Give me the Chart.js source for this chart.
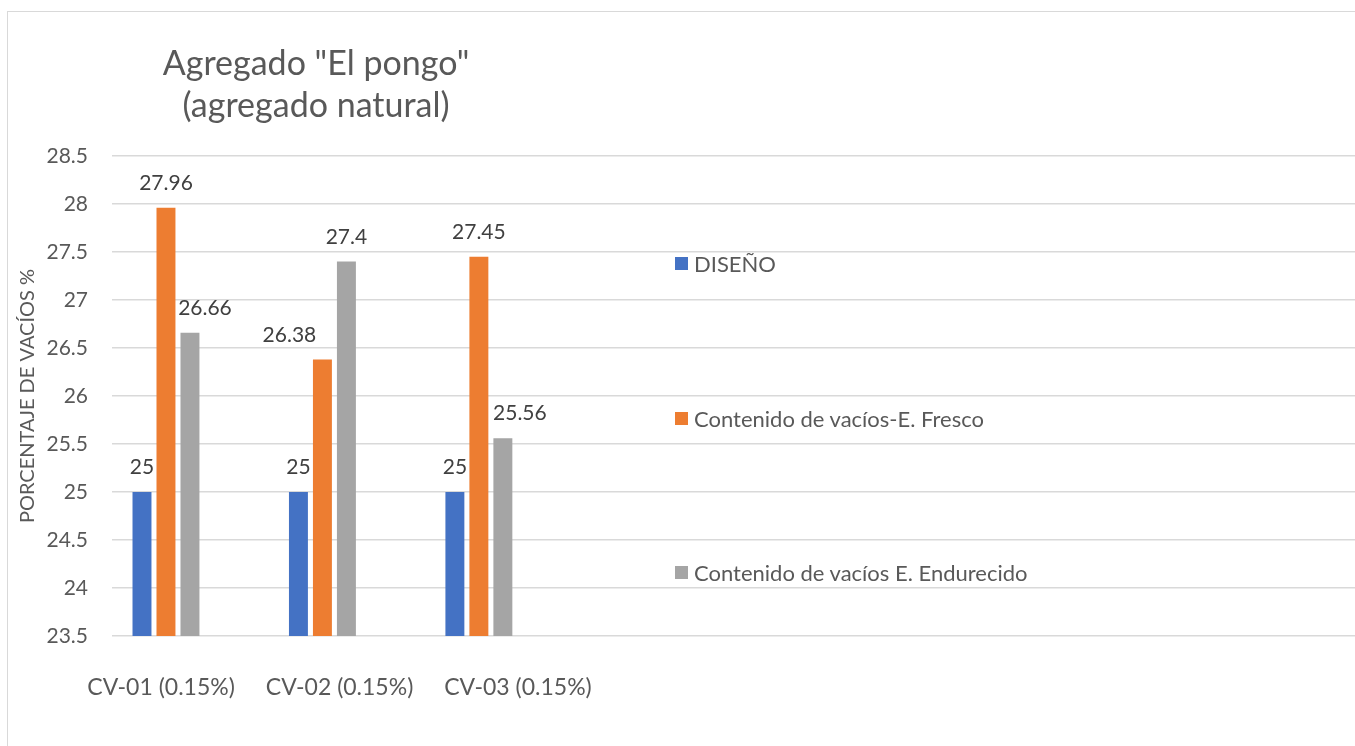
<!DOCTYPE html>
<html>
<head>
<meta charset="utf-8">
<script src="https://cdn.jsdelivr.net/npm/chart.js@4.4.1/dist/chart.umd.min.js"></script>
<style>
  body { margin: 0; background: #fff; }
  #wrap { position: relative; width: 1355px; height: 746px; font-family: Lato, sans-serif; color: #595959; }
  #chartCanvas { position: absolute; left: 0; top: 0; }
  #frame { position: absolute; left: 7px; top: 11px; right: 0; bottom: -2px; border-left: 1px solid #d9d9d9; border-top: 1px solid #d9d9d9; pointer-events: none; }
  #title { position: absolute; left: 116px; top: 41px; width: 400px; text-align: center; font-size: 34px; line-height: 42px; }
  .leg { position: absolute; left: 675px; height: 24px; display: flex; align-items: center; font-size: 22px; white-space: nowrap; }
  .leg span.box { display: inline-block; width: 13px; height: 13px; margin-right: 6px; }
</style>
</head>
<body>
<div id="wrap">
  <canvas id="chartCanvas" width="1355" height="746"></canvas>
  <div id="frame"></div>
  <div id="title">Agregado "El pongo"<br>(agregado natural)</div>
</div>
<script>
// --- Data ---
const categories = ['CV-01 (0.15%)', 'CV-02 (0.15%)', 'CV-03 (0.15%)'];
const seriesNames = ['DISEÑO', 'Contenido de vacíos-E. Fresco', 'Contenido de vacíos E. Endurecido'];
const diseno = [25, 25, 25];
const fresco = [27.96, 26.38, 27.45];
const endurecido = [26.66, 27.4, 25.56];

// --- Style ---
const colors = ['#4472C4', '#ED7D31', '#A5A5A5'];
const legendTops = [251, 406, 560];
// sideways nudge (px) of some value labels so they don't collide with neighbouring bars
const labelShift = [[0, 0, 0], [0, -33, 0], [15, 0, 17]];

const TEXT = '#595959';
const FONT = 'Lato, sans-serif';

// bars sit on a linear x axis (index per category) so the plot can run wider than the groups
const toPoints = (vals) => vals.map((v, i) => ({ x: i, y: v }));

const valueLabels = {
    id: 'valueLabels',
    afterDatasetsDraw(chart) {
        const ctx = chart.ctx;
        ctx.save();
        ctx.fillStyle = '#404040';
        ctx.font = '21px ' + FONT;
        ctx.textAlign = 'center';
        ctx.textBaseline = 'alphabetic';
        chart.data.datasets.forEach((ds, di) => {
            chart.getDatasetMeta(di).data.forEach((bar, i) => {
                ctx.fillText(String(ds.data[i].y), bar.x + labelShift[di][i], bar.y - 18);
            });
        });
        ctx.restore();
    }
};

const chart = new Chart(document.getElementById('chartCanvas'), {
    type: 'bar',
    data: {
        datasets: [diseno, fresco, endurecido].map((vals, i) => ({
            label: seriesNames[i],
            data: toPoints(vals),
            backgroundColor: colors[i],
            categoryPercentage: 0.46,
            barPercentage: 0.79
        }))
    },
    options: {
        responsive: false,
        animation: false,
        layout: { padding: { top: 156, right: 0, bottom: 0, left: 0 } },
        plugins: {
            legend: { display: false },
            title: { display: false },
            tooltip: { enabled: false }
        },
        scales: {
            // index axis for the bars; whole-number ticks keep the bar width tied to the category step
            x: {
                type: 'linear',
                offset: false,
                min: -0.345,
                max: 7.6,
                grid: { display: false },
                border: { display: false },
                ticks: { display: false, stepSize: 1, includeBounds: false },
                afterFit: (scale) => { scale.height = 0; }
            },
            // category names sit on their own, slightly wider spaced axis
            xLabels: {
                type: 'linear',
                position: 'bottom',
                offset: false,
                min: -0.275,
                max: 6.69,
                grid: { display: false },
                border: { display: false },
                ticks: {
                    stepSize: 1,
                    includeBounds: false,
                    autoSkip: false,
                    maxRotation: 0,
                    padding: 30,
                    color: TEXT,
                    font: { family: FONT, size: 23 },
                    callback: (v) => categories[v] || ''
                },
                afterFit: (scale) => { scale.height = 110; }
            },
            y: {
                min: 23.5,
                max: 28.5,
                ticks: {
                    stepSize: 0.5,
                    padding: 24,
                    color: TEXT,
                    font: { family: FONT, size: 21 },
                    callback: (v) => String(Math.round(v * 10) / 10)
                },
                grid: { color: '#d9d9d9', lineWidth: 1.5, drawTicks: false },
                border: { display: false },
                title: {
                    display: true,
                    text: 'PORCENTAJE DE VACÍOS %',
                    color: TEXT,
                    font: { family: FONT, size: 20 },
                    padding: { top: 16, bottom: 0 }
                },
                afterFit: (scale) => { scale.width = 112; }
            }
        }
    },
    plugins: [valueLabels]
});

// --- Legend ---
const wrap = document.getElementById('wrap');
seriesNames.forEach((name, i) => {
    const item = document.createElement('div');
    item.className = 'leg';
    item.style.top = legendTops[i] + 'px';
    item.innerHTML = '<span class="box" style="background:' + colors[i] + '"></span>' + name;
    wrap.appendChild(item);
});
</script>
</body>
</html>
